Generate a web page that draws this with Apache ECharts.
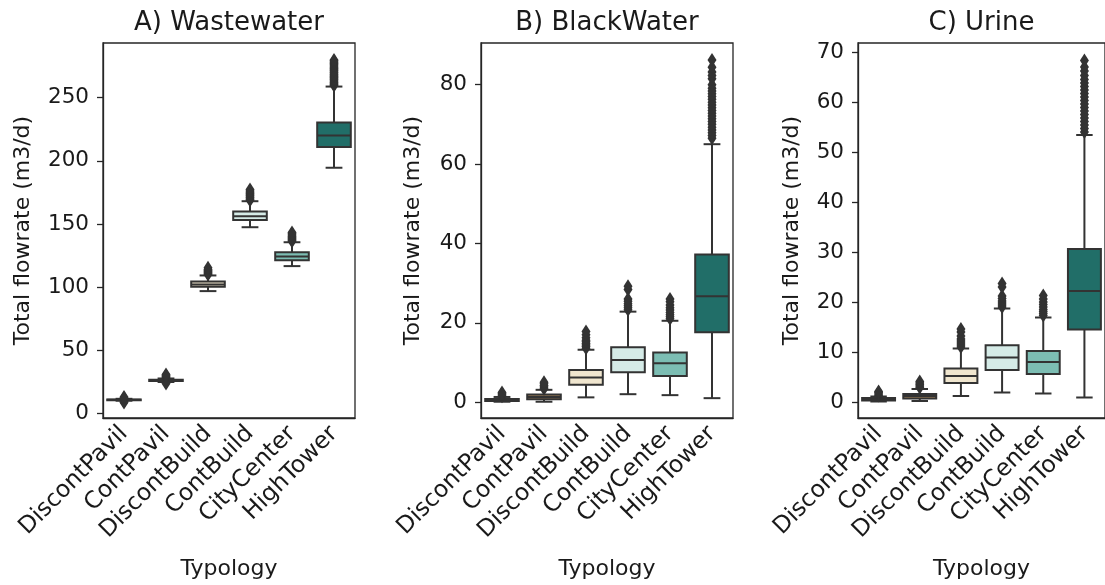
<!DOCTYPE html>
<html>
<head>
<meta charset="utf-8">
<script src="https://cdn.jsdelivr.net/npm/echarts@6/dist/echarts.min.js"></script>
<style>
html,body{margin:0;padding:0;background:#fff;}
#chart{width:1105px;height:585px;}
</style>
</head>
<body>
<div id="chart"></div>
<script>
// ---- data ----
const categories = ['DiscontPavil', 'ContPavil', 'DiscontBuild', 'ContBuild', 'CityCenter', 'HighTower'];
const panelTitles = ['A) Wastewater', 'B) BlackWater', 'C) Urine'];
const yAxisLabel = 'Total flowrate (m3/d)';
const xAxisLabel = 'Typology';

// [lower whisker, Q1, median, Q3, upper whisker]
const wastewaterStats = [
  [10.0, 10.4, 10.7, 11.0, 11.5],
  [24.8, 25.6, 26.1, 26.6, 27.6],
  [96.8, 100.3, 102.0, 104.5, 109.2],
  [147.4, 153.2, 156.0, 159.8, 168.0],
  [116.6, 121.3, 124.3, 127.6, 135.5],
  [194.5, 211.0, 220.0, 230.3, 258.8]
];
const wastewaterOutliers = [
  [8.6, 9.3, 12.1, 12.9],
  [23.6, 28.3, 29.1, 29.9, 30.8],
  [110.0, 110.8, 111.6, 112.4, 113.2, 114.0, 115.2],
  [168.8, 169.6, 170.5, 171.4, 172.3, 173.2, 174.1, 175.0, 176.0, 177.2],
  [136.3, 137.1, 137.9, 138.7, 139.5, 140.3, 141.2, 142.2, 143.2],
  [259.6, 260.5, 261.4, 262.3, 263.2, 264.1, 265.0, 265.9, 266.8, 267.7, 268.6, 269.5, 270.4,
   271.3, 272.2, 273.1, 274.0, 275.0, 276.0, 277.0, 278.0, 279.0, 279.8]
];

const blackwaterStats = [
  [0.1, 0.3, 0.5, 0.8, 1.3],
  [0.1, 0.7, 1.3, 1.9, 3.1],
  [1.2, 4.35, 6.2, 8.1, 13.2],
  [2.0, 7.55, 10.6, 13.8, 22.8],
  [1.76, 6.6, 9.8, 12.5, 20.5],
  [1.0, 17.6, 26.7, 37.2, 65.0]
];
const blackwaterOutliers = [
  [1.5, 1.8, 2.1, 2.4],
  [3.4, 3.8, 4.2, 4.6, 5.0],
  [13.6, 14.0, 14.4, 14.8, 15.2, 15.6, 16.2, 17.0, 17.8],
  [23.3, 23.8, 24.3, 24.8, 25.4, 26.0, 28.4, 29.2],
  [21.0, 21.5, 22.0, 22.6, 23.2, 23.8, 24.5, 25.3, 26.0],
  [66.5, 67.2, 67.9, 68.6, 69.3, 70.0, 70.7, 71.4, 72.1, 72.8, 73.5, 74.2, 74.9, 75.6, 76.3,
   77.0, 77.7, 78.4, 79.1, 80.0, 81.5, 82.3, 83.2, 84.4, 86.2]
];

const urineStats = [
  [0.1, 0.3, 0.5, 0.8, 1.1],
  [0.2, 0.7, 1.2, 1.6, 2.6],
  [1.2, 3.8, 5.2, 6.7, 10.7],
  [1.9, 6.4, 8.9, 11.35, 18.7],
  [1.7, 5.6, 8.0, 10.2, 16.9],
  [0.9, 14.5, 22.2, 30.6, 53.4]
];
const urineOutliers = [
  [1.3, 1.6, 1.9, 2.1],
  [2.9, 3.2, 3.5, 3.8, 4.1],
  [11.0, 11.4, 11.8, 12.2, 12.6, 13.2, 14.0, 14.6],
  [19.0, 19.4, 19.8, 20.2, 20.7, 21.2, 23.0, 23.7],
  [17.3, 17.7, 18.1, 18.5, 19.0, 19.5, 20.0, 20.6, 21.3],
  [54.0, 54.7, 55.4, 56.1, 56.8, 57.5, 58.2, 58.9, 59.6, 60.3, 61.0, 61.7, 62.4, 63.1, 63.8,
   64.5, 65.3, 66.2, 67.0, 68.3]
];

const yTicksA = [0, 50, 100, 150, 200, 250];
const yTicksB = [0, 20, 40, 60, 80];
const yTicksC = [0, 10, 20, 30, 40, 50, 60, 70];
const yRanges = [[-3.7, 293.3], [-4.0, 90.5], [-3.2, 71.8]];

// ---- style ----
const boxColors = ['#7d5a30', '#a8865a', '#f0e6cf', '#d5ebe7', '#7cbdb3', '#216e68'];
const lineColor = '#333333';
const spineColor = '#262626';
const textColor = '#1a1a1a';
const FONT = 'DejaVu Sans';
const YTICK_FS = 21.5;
const XTICK_FS = 23.5;
const NAME_FS = 22;
const TITLE_FS = 26;
const grids = [
  {left: 103, top: 43, width: 252, height: 376},
  {left: 481, top: 43, width: 252, height: 376},
  {left: 858, top: 43, width: 253, height: 376}
];
const nameGaps = [69, 57, 55];

const panels = [
  {stats: wastewaterStats, outliers: wastewaterOutliers, ticks: yTicksA},
  {stats: blackwaterStats, outliers: blackwaterOutliers, ticks: yTicksB},
  {stats: urineStats, outliers: urineOutliers, ticks: yTicksC}
];

function renderBox(params, api) {
  const c = api.value(0);
  const lo = api.coord([c, api.value(1)]);
  const q1 = api.coord([c, api.value(2)]);
  const md = api.coord([c, api.value(3)]);
  const q3 = api.coord([c, api.value(4)]);
  const hi = api.coord([c, api.value(5)]);
  const bw = api.size([1, 0])[0] * 0.8;
  const cw = bw / 2;
  const cx = lo[0];
  const ls = {stroke: lineColor, lineWidth: 2};
  return {
    type: 'group',
    children: [
      {type: 'line', shape: {x1: cx, y1: q1[1], x2: cx, y2: lo[1]}, style: ls},
      {type: 'line', shape: {x1: cx, y1: q3[1], x2: cx, y2: hi[1]}, style: ls},
      {type: 'line', shape: {x1: cx - cw / 2, y1: lo[1], x2: cx + cw / 2, y2: lo[1]}, style: ls},
      {type: 'line', shape: {x1: cx - cw / 2, y1: hi[1], x2: cx + cw / 2, y2: hi[1]}, style: ls},
      {type: 'rect', shape: {x: cx - bw / 2, y: q3[1], width: bw, height: q1[1] - q3[1]},
        style: {fill: boxColors[c], stroke: lineColor, lineWidth: 2}},
      {type: 'line', shape: {x1: cx - bw / 2, y1: md[1], x2: cx + bw / 2, y2: md[1]}, style: ls}
    ]
  };
}

const option = {
  animation: false,
  backgroundColor: '#ffffff',
  textStyle: {fontFamily: FONT},
  grid: grids.map(g => Object.assign({show: true, borderColor: spineColor, borderWidth: 1.3, backgroundColor: 'transparent'}, g)),
  graphic: panelTitles.map((t, i) => ({
    type: 'text',
    x: grids[i].left + grids[i].width / 2 - (i === 2 ? 3 : 0),
    y: 23,
    style: {text: t, font: TITLE_FS + 'px "DejaVu Sans"', fill: textColor, textAlign: 'center', textVerticalAlign: 'middle'}
  })),
  xAxis: grids.map((g, i) => ({
    type: 'category',
    gridIndex: i,
    data: categories,
    name: xAxisLabel,
    nameLocation: 'middle',
    nameGap: 140,
    nameTextStyle: {fontFamily: FONT, fontSize: NAME_FS, color: textColor},
    axisLine: {onZero: false, lineStyle: {color: spineColor, width: 1.3}},
    axisTick: {alignWithLabel: true, length: 6, lineStyle: {color: spineColor, width: 1.3}},
    axisLabel: {rotate: 45, fontFamily: FONT, fontSize: XTICK_FS, color: textColor, margin: 12, interval: 0},
    splitLine: {show: false}
  })),
  yAxis: panels.map((p, i) => ({
    type: 'value',
    gridIndex: i,
    min: yRanges[i][0],
    max: yRanges[i][1],
    name: yAxisLabel,
    nameLocation: 'middle',
    nameRotate: 90,
    nameGap: nameGaps[i],
    nameTextStyle: {fontFamily: FONT, fontSize: NAME_FS, color: textColor},
    axisLine: {show: true, onZero: false, lineStyle: {color: spineColor, width: 1.3}},
    axisTick: {show: true, length: 6, customValues: p.ticks, lineStyle: {color: spineColor, width: 1.3}},
    axisLabel: {customValues: p.ticks, fontFamily: FONT, fontSize: YTICK_FS, color: textColor, margin: 14},
    splitLine: {show: false}
  })),
  series: []
};

panels.forEach((p, i) => {
  option.series.push({
    type: 'custom',
    xAxisIndex: i,
    yAxisIndex: i,
    renderItem: renderBox,
    encode: {x: 0, y: [1, 2, 3, 4, 5]},
    data: p.stats.map((s, c) => [c].concat(s)),
    z: 2
  });
  const pts = [];
  p.outliers.forEach((arr, c) => arr.forEach(v => pts.push([c, v])));
  option.series.push({
    type: 'scatter',
    xAxisIndex: i,
    yAxisIndex: i,
    symbol: 'diamond',
    symbolSize: [9, 14],
    itemStyle: {color: lineColor, opacity: 1},
    data: pts,
    z: 3
  });
});

const chart = echarts.init(document.getElementById('chart'), null, {renderer: 'canvas'});
chart.setOption(option);
</script>
</body>
</html>
